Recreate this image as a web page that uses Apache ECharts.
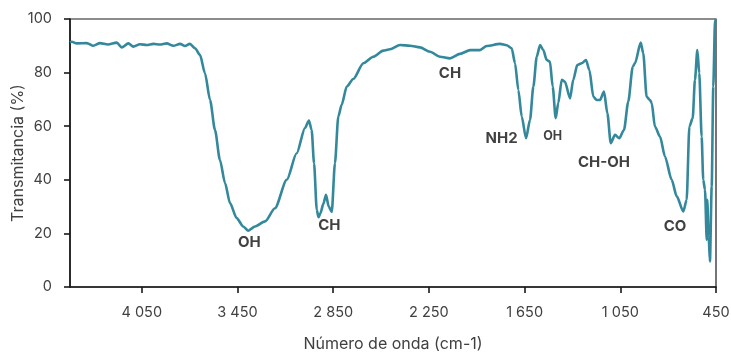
<!DOCTYPE html>
<html>
<head>
<meta charset="utf-8">
<script src="https://cdn.jsdelivr.net/npm/echarts@6/dist/echarts.min.js"></script>
<style>
  html, body { margin: 0; padding: 0; background: #ffffff; }
  #chart { width: 731px; height: 353px; }
</style>
</head>
<body>
<div id="chart"></div>
<script>
// FTIR spectrum: wavenumber (cm-1) against transmittance (%)
const wavenumbers = [
  4500, 4489, 4458, 4395, 4354, 4312, 4262, 4207, 4176, 4134,
  4103, 4061, 4019, 3978, 3936, 3894, 3852, 3810, 3779, 3748,
  3716, 3685, 3654, 3622, 3591, 3560, 3528, 3497, 3455, 3414,
  3382, 3340, 3277, 3215, 3141, 3079, 3027, 3002, 2985, 2970,
  2953, 2942, 2930, 2912, 2895, 2878, 2859, 2839, 2818, 2797,
  2765, 2724, 2661, 2599, 2536, 2494, 2431, 2368, 2306, 2243,
  2180, 2118, 2055, 1992, 1930, 1888, 1804, 1762, 1731, 1710,
  1689, 1668, 1641, 1616, 1595, 1574, 1553, 1533, 1511, 1491,
  1474, 1455, 1439, 1417, 1397, 1365, 1345, 1320, 1292, 1265,
  1244, 1219, 1198, 1177, 1152, 1131, 1110, 1083, 1056, 1027,
  1000, 972, 958, 922, 906, 885, 864, 853, 833, 801,
  770, 728, 696, 655, 634, 617, 596, 582, 567, 555,
  540, 530, 519, 508, 505, 496, 488, 477, 467, 456,
  450
];
const transmittance = [
  91.3, 91.5, 90.9, 91.0, 90.0, 91.0, 90.5, 91.2, 89.4, 90.9,
  89.7, 90.6, 90.3, 90.7, 90.5, 90.9, 90.0, 90.7, 89.9, 90.7,
  89.1, 86.6, 79.8, 69.8, 58.6, 47.4, 38.8, 31.3, 25.7, 22.6,
  21.0, 22.6, 24.5, 29.4, 40.0, 49.9, 59.3, 62.1, 58.6, 46.2,
  28.8, 26.0, 27.5, 31.0, 34.4, 30.0, 28.0, 46.2, 63.6, 68.0,
  74.8, 77.6, 83.5, 85.9, 88.2, 88.7, 90.3, 90.0, 89.4, 87.8,
  85.9, 85.3, 87.0, 88.4, 88.4, 89.9, 90.7, 90.2, 89.1, 83.5,
  73.5, 63.6, 55.5, 62.4, 74.8, 85.9, 90.3, 88.4, 84.7, 84.1,
  74.8, 63.0, 68.6, 77.3, 76.6, 70.4, 77.3, 82.8, 83.5, 84.7,
  81.0, 71.0, 69.8, 69.8, 72.9, 64.8, 53.7, 56.8, 55.5, 58.6,
  69.2, 82.2, 83.5, 91.2, 87.2, 71.0, 69.8, 68.6, 59.9, 56.1,
  48.7, 40.0, 33.8, 28.2, 32.5, 59.9, 63.0, 77.3, 88.4, 79.8,
  56.1, 40.0, 36.3, 17.6, 32.5, 18.9, 9.5, 37.5, 74.8, 99.6,
  100
];

// Tick values along the wavenumber axis
const xTicks = [4050, 3450, 2850, 2250, 1650, 1050, 450];
const yTicks = [0, 20, 40, 60, 80, 100];

// Band assignments and where their text sits (wavenumber, transmittance)
const bandNames = ['OH', 'CH', 'CH', 'NH2', 'OH', 'CH-OH', 'CO'];
const bandWavenumbers = [3376, 2874, 2118, 1794, 1474, 1152, 707];
const bandTransmittance = [16.6, 22.8, 79.8, 55.5, 56.4, 46.3, 22.6];
const bandFontSizes = [15, 15, 15, 15, 12.5, 15, 15];

const FONT = 'Inter, "Open Sans", sans-serif';

function groupThousands(v) {
  if (v >= 1000) {
    return Math.floor(v / 1000) + ' ' + String(v % 1000).padStart(3, '0');
  }
  return String(v);
}

const spectrum = wavenumbers.map((w, i) => [w, transmittance[i]]);
const bandLabels = bandNames.map((name, i) => ({
  value: [bandWavenumbers[i], bandTransmittance[i]],
  label: { formatter: name, fontSize: bandFontSizes[i] }
}));

const chart = echarts.init(document.getElementById('chart'), null, { renderer: 'canvas' });

chart.setOption({
  animation: false,
  backgroundColor: '#ffffff',
  grid: {
    left: 70, right: 15, top: 19, bottom: 66,
    outerBoundsMode: 'none',
    containLabel: false,
    show: true, borderColor: '#1a1a1a', borderWidth: 1.2, backgroundColor: 'transparent'
  },
  xAxis: {
    type: 'value',
    inverse: true,
    min: 450, max: 4500,
    name: 'Número de onda (cm-1)',
    nameLocation: 'middle',
    nameGap: 49,
    nameMoveOverlap: false,
    nameTextStyle: { fontFamily: FONT, fontSize: 16, color: '#404040' },
    axisLine: { show: true, onZero: false, lineStyle: { color: '#1a1a1a', width: 1.6 } },
    axisTick: { show: true, length: 6, customValues: xTicks, lineStyle: { color: '#1a1a1a', width: 1.6 } },
    axisLabel: {
      customValues: xTicks, margin: 18,
      fontFamily: FONT, fontSize: 14.5, color: '#404040',
      formatter: groupThousands
    },
    splitLine: { show: false }
  },
  yAxis: {
    type: 'value',
    min: 0, max: 100, interval: 20,
    name: 'Transmitancia (%)',
    nameLocation: 'middle',
    nameGap: 44,
    nameMoveOverlap: false,
    nameTextStyle: { fontFamily: FONT, fontSize: 16, color: '#404040' },
    axisLine: { show: true, lineStyle: { color: '#1a1a1a', width: 1.6 } },
    axisTick: { show: true, length: 6, customValues: yTicks, lineStyle: { color: '#1a1a1a', width: 1.6 } },
    axisLabel: { customValues: yTicks, margin: 18, fontFamily: FONT, fontSize: 14.5, color: '#404040' },
    splitLine: { show: false }
  },
  series: [
    {
      type: 'line',
      data: spectrum,
      showSymbol: false,
      smooth: 0.25,
      smoothMonotone: 'x',
      lineStyle: { color: '#34889b', width: 2.6 },
      z: 3
    },
    {
      type: 'scatter',
      data: bandLabels,
      symbolSize: 0,
      silent: true,
      label: {
        show: true,
        position: 'inside',
        fontFamily: FONT,
        fontWeight: 'bold',
        color: '#111111'
      },
      z: 4
    }
  ]
});
</script>
</body>
</html>
